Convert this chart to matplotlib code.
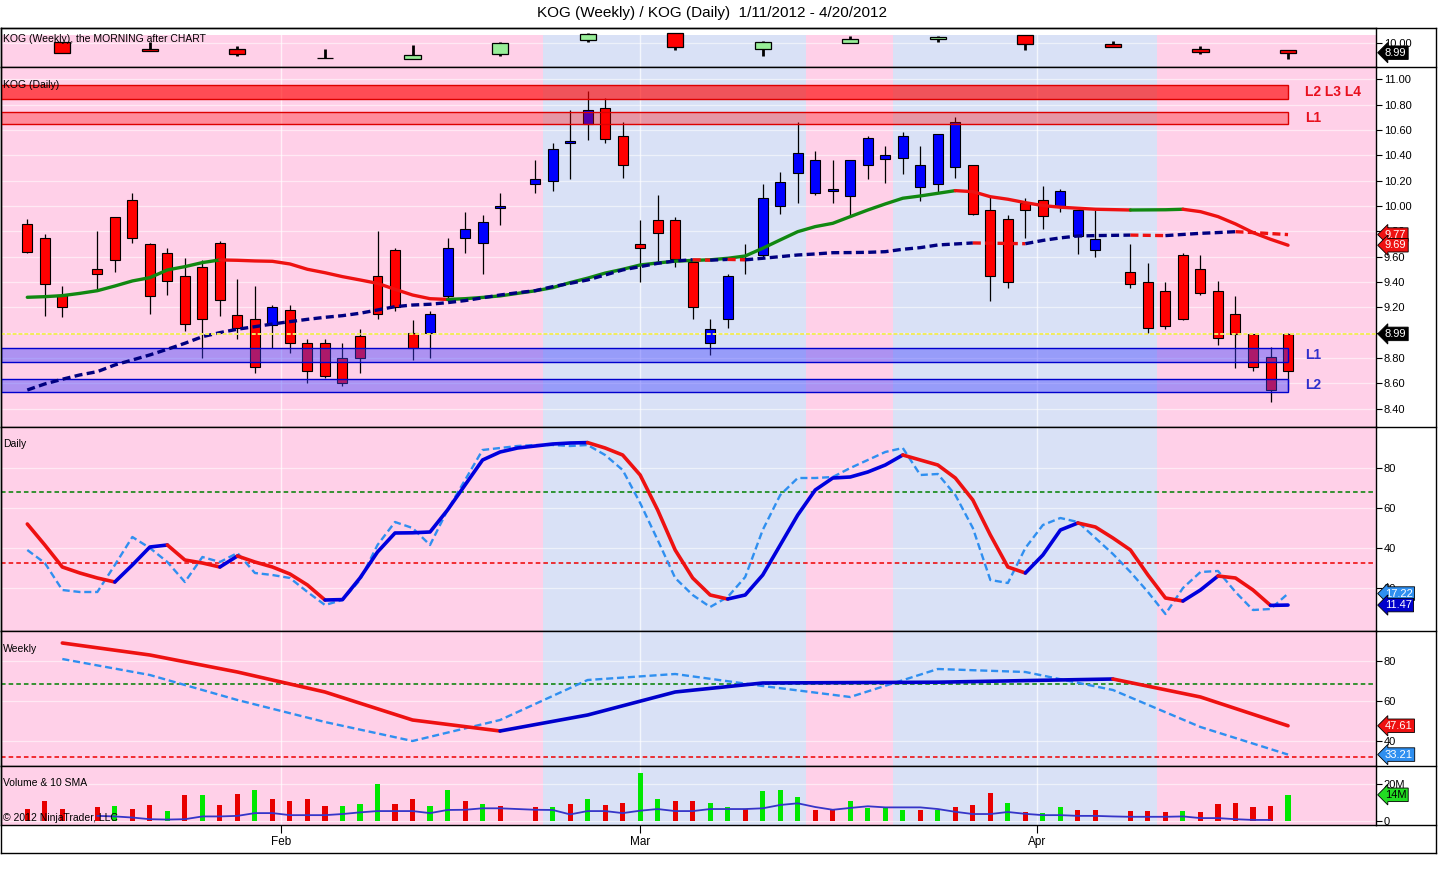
import numpy as np
import matplotlib
matplotlib.use("Agg")
import matplotlib.pyplot as plt
from matplotlib.patches import Rectangle
from matplotlib.lines import Line2D

plt.rcParams['font.family'] = ['Liberation Sans', 'DejaVu Sans']
nan = np.nan

# ---------------- data ----------------
title = "KOG (Weekly) / KOG (Daily)  1/11/2012 - 4/20/2012"
month_labels = ['Feb', 'Mar', 'Apr']
month_pos = [14.5, 35.0, 57.65]          # slot positions of month gridlines

# daily bars, one slot per weekday 1/11/2012 .. 4/20/2012 (holidays = nan)
daily_open = [9.86, 9.75, 9.30, nan, 9.50, 9.91, 10.05, 9.70, 9.63, 9.45,
              9.52, 9.71, 9.14, 9.11, 9.06, 9.18, 8.92, 8.92, 8.80, 8.97,
              9.45, 9.65, 9.00, 9.00, 9.29, 9.75, 9.71, 9.98, nan, 10.17,
              10.20, 10.50, 10.65, 10.77, 10.55, 9.70, 9.89, 9.89, 9.56, 8.92,
              9.11, 9.59, 9.61, 10.00, 10.26, 10.10, 10.12, 10.08, 10.32, 10.37,
              10.38, 10.15, 10.17, 10.31, 10.32, 9.97, 9.90, 10.02, 10.05, 10.00,
              9.76, 9.65, nan, 9.48, 9.40, 9.33, 9.61, 9.50, 9.33, 9.15,
              8.99, 8.81, 8.70]
daily_high = [9.90, 9.78, 9.37, nan, 9.80, 9.91, 10.10, 9.71, 9.67, 9.59,
              9.57, 9.72, 9.42, 9.37, 9.22, 9.22, 8.95, 8.95, 8.92, 9.03,
              9.80, 9.67, 9.10, 9.17, 9.75, 9.95, 9.93, 10.10, nan, 10.36,
              10.50, 10.76, 10.91, 10.85, 10.66, 9.89, 10.09, 9.91, 9.57, 9.11,
              9.46, 9.70, 10.17, 10.27, 10.66, 10.43, 10.36, 10.36, 10.55, 10.47,
              10.58, 10.47, 10.57, 10.70, 10.32, 10.08, 9.93, 10.06, 10.16, 10.13,
              9.97, 9.97, nan, 9.70, 9.55, 9.40, 9.63, 9.61, 9.41, 9.29,
              8.99, 8.89, 9.00]
daily_low = [9.63, 9.13, 9.12, nan, 9.34, 9.48, 9.71, 9.15, 9.30, 9.01,
             8.80, 9.13, 8.95, 8.68, 8.88, 8.84, 8.60, 8.64, 8.58, 8.68,
             9.11, 9.17, 8.78, 8.80, 9.25, 9.63, 9.46, 9.85, nan, 10.10,
             10.12, 10.21, 10.52, 10.50, 10.22, 9.40, 9.56, 9.52, 9.11, 8.82,
             9.04, 9.46, 9.60, 9.94, 10.02, 10.09, 10.02, 9.92, 10.21, 10.18,
             10.25, 10.04, 10.11, 10.22, 9.93, 9.25, 9.35, 9.75, 9.82, 9.95,
             9.62, 9.60, nan, 9.35, 9.00, 9.03, 9.10, 9.30, 8.90, 8.72,
             8.70, 8.45, 8.55]
daily_close = [9.64, 9.38, 9.20, nan, 9.46, 9.57, 9.75, 9.29, 9.41, 9.07,
               9.11, 9.26, 9.04, 8.73, 9.20, 8.92, 8.70, 8.66, 8.60, 8.80,
               9.15, 9.20, 8.88, 9.15, 9.67, 9.82, 9.87, 10.00, nan, 10.21,
               10.45, 10.51, 10.76, 10.53, 10.32, 9.67, 9.79, 9.58, 9.20, 9.03,
               9.45, 9.57, 10.06, 10.19, 10.42, 10.36, 10.13, 10.36, 10.54, 10.40,
               10.55, 10.32, 10.57, 10.66, 9.94, 9.45, 9.40, 9.97, 9.92, 10.12,
               9.97, 9.74, nan, 9.38, 9.04, 9.05, 9.11, 9.31, 8.96, 8.99,
               8.73, 8.55, 8.99]
daily_trend = "RRR-RRRRRRRRRRBRRRRRRRRBBBBB-BBBBRRRRRRBBRBBBBBBBBBBBBRRRRRBBB-RRRRRRRRRR"

# moving averages on the daily chart
ma_fast = [9.279, 9.284, 9.292, 9.31, 9.331, 9.368, 9.408, 9.434, 9.495, 9.521,
           9.553, 9.574, 9.571, 9.566, 9.563, 9.542, 9.50, 9.473, 9.442, 9.416,
           9.389, 9.342, 9.297, 9.268, 9.262, 9.268, 9.278, 9.29, 9.31, 9.33,
           9.355, 9.395, 9.43, 9.47, 9.50, 9.534, 9.55, 9.564, 9.57, 9.575,
           9.587, 9.605, 9.666, 9.732, 9.797, 9.837, 9.863, 9.916, 9.968, 10.016,
           10.061, 10.079, 10.10, 10.121, 10.113, 10.073, 10.053, 10.026, 10.003, 9.99,
           9.982, 9.974, 9.971, 9.968, 9.969, 9.970, 9.974, 9.955, 9.916, 9.858,
           9.79, 9.737, 9.69]
ma_slow = [8.547, 8.595, 8.632, 8.666, 8.692, 8.745, 8.784, 8.824, 8.869, 8.916,
           8.968, 9.0, 9.027, 9.047, 9.068, 9.087, 9.105, 9.121, 9.134, 9.153,
           9.179, 9.205, 9.218, 9.224, 9.237, 9.253, 9.275, 9.297, 9.315, 9.331,
           9.363, 9.389, 9.416, 9.455, 9.495, 9.521, 9.547, 9.566, 9.575, 9.572,
           9.578, 9.575, 9.587, 9.60, 9.613, 9.621, 9.631, 9.632, 9.634, 9.639,
           9.658, 9.671, 9.692, 9.70, 9.708, 9.706, 9.704, 9.702, 9.728, 9.748,
           9.763, 9.766, 9.768, 9.770, 9.768, 9.766, 9.775, 9.784, 9.79, 9.797,
           9.79, 9.782, 9.774]

# weekly bars (plotted on the Friday slot of each week)
weekly_slot = [2, 7, 12, 17, 22, 27, 32, 37, 42, 47, 52, 57, 62, 67, 72]
weekly_open = [10.07, 9.33, 9.36, 8.49, 8.32, 8.83, 10.24, 10.95, 9.39, 9.94, 10.34, 10.75, 9.84, 9.36, 9.23]
weekly_high = [10.07, 10.07, 9.64, 9.33, 9.77, 10.07, 11.01, 10.95, 10.20, 10.68, 10.68, 10.75, 10.17, 9.67, 9.23]
weekly_low = [8.99, 9.13, 8.69, 8.47, 8.32, 8.69, 10.10, 9.29, 8.69, 9.94, 10.10, 9.23, 9.54, 8.86, 8.32]
weekly_close = [8.99, 9.13, 8.83, 8.48, 8.73, 9.94, 10.88, 9.54, 10.07, 10.34, 10.55, 9.90, 9.54, 9.09, 8.99]
weekly_trend = ['R', 'R', 'R', 'K', 'G', 'G', 'G', 'R', 'G', 'G', 'G', 'R', 'R', 'R', 'R']

# support / resistance zones
zone_lo = [10.847, 10.645, 8.771, 8.534]
zone_hi = [10.955, 10.744, 8.877, 8.632]
zone_label = ['L2 L3 L4', 'L1', 'L1', 'L2']
zone_kind = ['res', 'res', 'sup', 'sup']
last_price = 8.99

# daily stochastics
dstoch_d = [52, 41.5, 30.5, 27.5, 25, 23, 31.5, 40.5, 41.5, 34,
            32.5, 30.5, 36, 33, 30.5, 27, 21.5, 14, 14.2, 25,
            38, 47.5, 47.6, 48, 59, 71.5, 84, 88, 90, 91,
            92, 92.5, 92.7, 90, 86.5, 76.5, 59, 39, 25, 16.5,
            14.5, 16.5, 26.5, 41.5, 56.5, 69, 75, 75.5, 78, 81.5,
            86.5, 84, 81.5, 75, 64, 46.5, 30.5, 27.5, 36.5, 49,
            52.5, 50.5, 45, 39, 26.5, 15, 13.5, 19, 26, 25,
            19, 11.3, 11.47]
dstoch_k = [39, 32.5, 19, 18, 18, 31.5, 45.5, 40, 33, 23,
            35.5, 33, 37.5, 27.5, 26.5, 25, 18, 11.5, 14, 24,
            41.5, 53, 50, 41.5, 59, 74, 89, 90, 91, 91.5,
            91.5, 91, 91.5, 86.5, 79, 62.5, 44, 25, 16.5, 10.5,
            15.5, 25.5, 49, 66.5, 75, 75, 75.5, 80, 84, 88,
            90, 76.5, 77, 66.5, 50, 24, 22.5, 40, 51.5, 55,
            53, 45, 37, 28, 18, 7, 20, 28, 28.5, 18,
            9, 9.5, 17.22]
dstoch_levels = [68, 32.5]

# weekly stochastics
wstoch_d = [89, 83, 74.5, 64.5, 50.5, 45, 53, 64.5, 69, 69.2, 69.4, 70.2, 71, 62, 47.61]
wstoch_k = [81, 73, 60.5, 49.5, 40, 50.5, 70.5, 73.5, 67.5, 62, 76, 74.5, 65.5, 47, 33.21]
wstoch_levels = [68.5, 32]

# volume (millions) and its 10 SMA overlay
volume = [6.8, 11.2, 6.8, nan, 7.9, 8.4, 6.8, 9.0, 5.7, 14.0,
          14.0, 9.0, 14.5, 16.7, 11.8, 11.2, 12.3, 8.4, 8.4, 9.5,
          20.0, 9.5, 12.3, 8.4, 16.7, 10.7, 9.5, 8.4, nan, 7.9,
          7.9, 9.5, 11.8, 9.0, 10.1, 26.1, 12.3, 10.7, 10.7, 10.1,
          7.9, 6.8, 16.2, 16.7, 12.9, 6.2, 6.8, 10.7, 7.3, 7.3,
          6.2, 6.2, 6.2, 7.9, 9.0, 15.1, 10.1, 5.1, 4.6, 7.9,
          6.2, 6.2, nan, 5.7, 5.7, 5.1, 5.7, 5.1, 9.5, 10.1,
          7.9, 8.4, 14.3]
volume_dir = "RRR-RGRRGRGRRGRRRRGGGRRGGRGR-RGRGRRGGRRGGRGGGRRGGGGRGRRRGRGGRR-RRRGRRRRRG"
volume_sma = [nan, nan, nan, nan, 2.9, 2.6, 2.0, 1.1, 0.9, 1.1,
              2.6, 2.6, 2.9, 4.4, 4.4, 3.3, 3.3, 3.3, 3.9, 4.8,
              5.5, 5.5, 5.5, 4.4, 6.1, 6.2, 7.0, 7.0, 6.6, 6.2,
              6.1, 3.7, 5.5, 5.5, 4.4, 5.7, 6.6, 5.5, 5.5, 6.6,
              6.6, 6.6, 7.0, 8.8, 9.7, 7.7, 6.2, 7.2, 8.1, 7.5,
              7.5, 7.5, 6.6, 5.1, 3.9, 3.9, 5.0, 4.0, 3.3, 3.3,
              2.9, 2.9, 2.6, 2.4, 2.4, 2.4, 2.6, 1.7, 1.7, 1.1,
              0.7, 0.7, nan]

band_edges = [29.45, 44.5, 49.45, 64.5]   # weekly up/down background regions

# ---------------- layout ----------------
W, H = 1440, 871
fig = plt.figure(figsize=(W / 100, H / 100), dpi=100)
fig.patch.set_facecolor('white')

PINK, BLUE = '#ffd0e8', '#d9e1f6'
band_colors = [PINK, BLUE, PINK, BLUE, PINK]


def rect(x0, y0, x1, y1):
    return [x0 / W, 1 - y1 / H, (x1 - x0) / W, (y1 - y0) / H]


def slot_from_px(px):
    return (px - 27.3) / 17.51


PX_L, PX_R, PX_FR = 1.0, 1376.0, 1436.0
XL, XR = slot_from_px(PX_L), slot_from_px(PX_R)
slots = np.arange(len(daily_open))


def setup(ax, ylim, yticks, labels, band_ymax=1.0):
    ax.set_xlim(XL, XR)
    ax.set_ylim(*ylim)
    ax.set_facecolor('white')
    edges = [XL] + band_edges + [XR]
    for i in range(len(edges) - 1):
        ax.axvspan(edges[i], edges[i + 1], ymin=0, ymax=band_ymax,
                   color=band_colors[i], lw=0, zorder=0)
    for mp in month_pos:
        ax.axvline(mp, ymax=band_ymax, color='white', lw=1.0, alpha=0.7, zorder=0.5)
    for t in yticks:
        ax.axhline(t, color='white', lw=0.9, alpha=0.55, zorder=0.5)
    ax.yaxis.tick_right()
    ax.set_yticks(yticks)
    ax.set_yticklabels(labels)
    ax.tick_params(axis='y', direction='out', length=4, width=0.8,
                   labelsize=8, pad=1.5, colors='black')
    ax.set_xticks([])
    for s in ax.spines.values():
        s.set_linewidth(1.0)
        s.set_color('black')


def marker(ax, y, txt, fc, tc='white'):
    ax.text(1.0065, y, txt, transform=ax.get_yaxis_transform(), ha='left',
            va='center', fontsize=8, color=tc, zorder=20, clip_on=False,
            bbox=dict(boxstyle='larrow,pad=0.16', fc=fc, ec='black', lw=0.6))


def colored_runs(ax, x, y, up, down, **kw):
    x = np.asarray(x, float)
    y = np.asarray(y, float)
    m = ~np.isnan(y)
    x, y = x[m], y[m]
    cols = [up if v >= 0 else down for v in np.diff(y)]
    start = 0
    for i in range(1, len(cols) + 1):
        if i == len(cols) or cols[i] != cols[start]:
            ax.plot(x[start:i + 1], y[start:i + 1], color=cols[start], **kw)
            start = i


def candles(ax, x, o, h, l, c, fcs, width, wick_lw, edge_lw, z=3):
    for xi, oi, hi, li, ci, fc in zip(x, o, h, l, c, fcs):
        if np.isnan(oi):
            continue
        ax.plot([xi, xi], [li, hi], color='black', lw=wick_lw, zorder=z,
                solid_capstyle='butt')
        b0, b1 = min(oi, ci), max(oi, ci)
        ax.add_patch(Rectangle((xi - width / 2, b0), width, max(b1 - b0, 1e-4),
                               fc=fc, ec='black', lw=edge_lw, zorder=z + 0.1))


# ---- weekly price panel ----
ax_w = fig.add_axes(rect(PX_L, 28, PX_R, 67))
setup(ax_w, (7.545, 11.485), [10.0], ['10.00'], band_ymax=(67 - 35) / (67 - 28))
wcol = {'R': '#ff0000', 'G': '#98ee98', 'K': 'black'}
candles(ax_w, weekly_slot, weekly_open, weekly_high, weekly_low, weekly_close,
        [wcol[t] for t in weekly_trend], 0.92, 2.0, 0.9)
marker(ax_w, weekly_close[-1], '%.2f' % weekly_close[-1], 'black')

# ---- daily price panel ----
ax_d = fig.add_axes(rect(PX_L, 67, PX_R, 427))
pticks = [round(8.4 + 0.2 * i, 2) for i in range(14)]
setup(ax_d, (8.255, 11.097), pticks, ['%.2f' % t for t in pticks])
dcol = {'R': '#ff0000', 'B': '#0000ff', '-': 'none'}
candles(ax_d, slots, daily_open, daily_high, daily_low, daily_close,
        [dcol[t] for t in daily_trend], 0.57, 0.9, 0.8)

last_slot = slots[-1]
zone_face = {'res': [(1, 0, 0, 0.63), (1, 0, 0, 0.33)], 'sup': [(0.24, 0.24, 1, 0.42)] * 2}
for i, (lo, hi, lab, kind) in enumerate(zip(zone_lo, zone_hi, zone_label, zone_kind)):
    fc = zone_face[kind][i % 2]
    ec = '#dd0000' if kind == 'res' else '#0000cc'
    ax_d.add_patch(Rectangle((XL, lo), last_slot - XL, hi - lo, fc=fc, ec=ec,
                             lw=1.0, zorder=4))
    tc = '#e8101e' if kind == 'res' else '#3030cc'
    ax_d.text(slot_from_px(1305), (lo + hi) / 2, lab, color=tc, fontsize=10,
              fontweight='bold', va='center', ha='left', zorder=6,
              family=['Liberation Sans Narrow', 'Liberation Sans', 'DejaVu Sans'])

colored_runs(ax_d, slots, ma_fast, '#118811', '#ee1111', lw=2.4, zorder=5,
             solid_capstyle='round')
colored_runs(ax_d, slots, ma_slow, '#000080', '#ee1111', lw=2.4, zorder=5,
             dashes=(2.4, 1.3), dash_capstyle='butt')
ax_d.axhline(last_price, color='#f2ec5a', lw=1.4, ls=(0, (2, 1)), zorder=6)
marker(ax_d, ma_slow[-1], '%.2f' % ma_slow[-1], '#ee1111')
marker(ax_d, ma_fast[-1], '%.2f' % ma_fast[-1], '#ee1111')
marker(ax_d, last_price, '%.2f' % last_price, 'black')

# ---- daily stochastics ----
ax_s = fig.add_axes(rect(PX_L, 427, PX_R, 631))
setup(ax_s, (-1.5, 100.5), [20, 40, 60, 80], ['20', '40', '60', '80'])
ax_s.axhline(dstoch_levels[0], color='#008000', lw=1.1, ls=(0, (3, 2)), zorder=2)
ax_s.axhline(dstoch_levels[1], color='#ee0000', lw=1.1, ls=(0, (3, 2)), zorder=2)
ax_s.plot(slots, dstoch_k, color='#2f8ff0', lw=1.7, dashes=(3, 1.6), zorder=4)
colored_runs(ax_s, slots, dstoch_d, '#0000dd', '#ee1111', lw=2.6, zorder=5,
             solid_capstyle='round')
marker(ax_s, dstoch_k[-1], '%.2f' % dstoch_k[-1], '#2f8ff0')
marker(ax_s, dstoch_d[-1], '%.2f' % dstoch_d[-1], '#0000cc')

# ---- weekly stochastics ----
ax_ws = fig.add_axes(rect(PX_L, 631, PX_R, 766))
setup(ax_ws, (27.5, 95), [40, 60, 80], ['40', '60', '80'])
ax_ws.axhline(wstoch_levels[0], color='#008000', lw=1.1, ls=(0, (3, 2)), zorder=2)
ax_ws.axhline(wstoch_levels[1], color='#ee0000', lw=1.1, ls=(0, (3, 2)), zorder=2)
ax_ws.plot(weekly_slot, wstoch_k, color='#2f8ff0', lw=1.7, dashes=(3, 1.6), zorder=4)
colored_runs(ax_ws, weekly_slot, wstoch_d, '#0000cc', '#ee1111', lw=2.6, zorder=5,
             solid_capstyle='round')
marker(ax_ws, wstoch_d[-1], '%.2f' % wstoch_d[-1], '#ee1111')
marker(ax_ws, wstoch_k[-1], '%.2f' % wstoch_k[-1], '#2f8ff0')

# ---- volume ----
ax_v = fig.add_axes(rect(PX_L, 766, PX_R, 825))
setup(ax_v, (-2.04, 29.9), [0, 20], ['0', '20M'])
vcol = {'R': '#e80000', 'G': '#00e800', '-': 'none'}
vx = [s for s, v in zip(slots, volume) if not np.isnan(v)]
vv = [v for v in volume if not np.isnan(v)]
vc = [vcol[d] for d, v in zip(volume_dir, volume) if not np.isnan(v)]
ax_v.bar(vx, vv, width=0.29, color=vc, zorder=3)
ax_v.plot(slots, volume_sma, color='#3535c8', lw=1.3, zorder=4)
marker(ax_v, volume[-1], '%dM' % int(volume[-1]), '#22dd22', tc='black')
ax_v.set_xticks(month_pos)
ax_v.set_xticklabels(month_labels)
ax_v.tick_params(axis='x', direction='out', length=6, width=0.8, labelsize=8.5, pad=2)


# ---- texts & frame ----
def ftext(x, y, s, **kw):
    fig.text(x / W, 1 - y / H, s, va='center', **kw)


ftext(712, 13, title, ha='center', fontsize=11)
ftext(3, 39, 'KOG (Weekly), the MORNING after CHART', fontsize=7.5, ha='left', zorder=30)
ftext(3, 85, 'KOG (Daily)', fontsize=7.5, ha='left', zorder=30)
ftext(3, 444, 'Daily', fontsize=7.5, ha='left', zorder=30)
ftext(3, 649, 'Weekly', fontsize=7.5, ha='left', zorder=30)
ftext(3, 783, 'Volume & 10 SMA', fontsize=7.5, ha='left', zorder=30)
ftext(3, 818, '\u00a9 2012 NinjaTrader, LLC', fontsize=7.5, ha='left', zorder=30)


def fline(xs, ys):
    fig.add_artist(Line2D([x / W for x in xs], [1 - y / H for y in ys],
                          color='black', lw=1.0))


fline([PX_L, PX_FR], [28, 28])
fline([PX_FR, PX_FR], [28, 853])
fline([PX_L, PX_FR], [853, 853])
fline([PX_L, PX_L], [28, 853])
for yb in [67, 427, 631, 766, 825]:
    fline([PX_R, PX_FR], [yb, yb])

fig.savefig('out.png', dpi=100, facecolor='white')
